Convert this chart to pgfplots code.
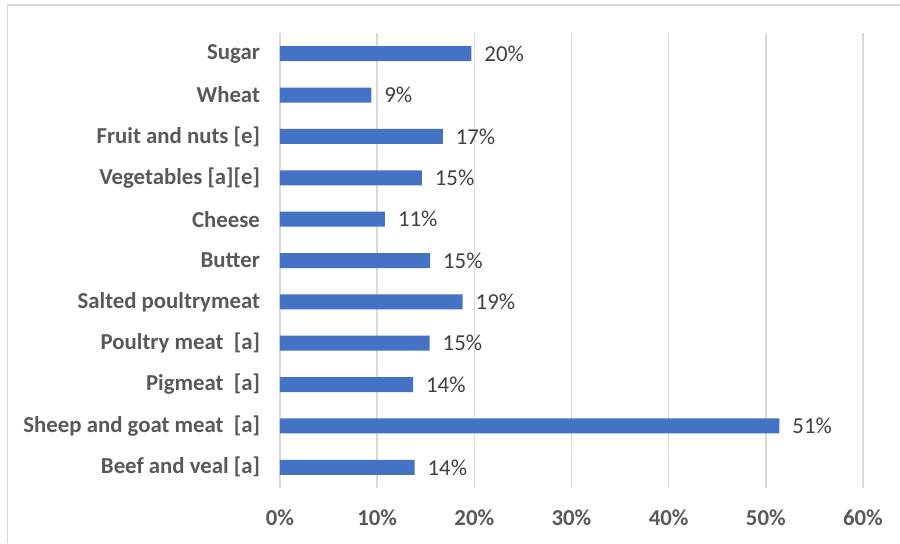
\documentclass[border=0pt]{standalone}
\usepackage{pgfplots}
\pgfplotsset{compat=1.18}
\usepackage{fontspec}
\setmainfont{Carlito}
\definecolor{barblue}{HTML}{4472C4}
\definecolor{lblgray}{HTML}{595959}
\definecolor{valgray}{HTML}{404040}
\definecolor{gridgray}{HTML}{D9D9D9}

\begin{document}
\begin{tikzpicture}
\useasboundingbox (0,0) rectangle (450pt,271.5pt);
% outer chart frame (only top and left edges are in view)
\draw[gridgray, line width=0.8pt] (3.75pt,0) -- (3.75pt,269pt) -- (450pt,269pt);
\begin{axis}[
    at={(140pt,27.5pt)}, anchor=south west,
    scale only axis,
    width=291.5pt, height=227.5pt,
    xbar, bar width=7.5pt,
    xmin=0, xmax=60,
    ymin=-0.5, ymax=10.5,
    xtick={0,10,20,30,40,50,60},
    ytick={0,1,2,3,4,5,6,7,8,9,10},
    yticklabels={Beef and veal [a], Sheep and goat meat\ \ [a], Pigmeat\ \ [a],
        Poultry meat\ \ [a], Salted poultrymeat, Butter, Cheese,
        Vegetables [a][e], Fruit and nuts [e], Wheat, Sugar},
    xticklabel={\pgfmathprintnumber{\tick}\%},
    /pgf/number format/assume math mode=true,
    axis line style={draw=none},
    major tick length=0pt,
    xmajorgrids,
    grid style={gridgray, line width=0.8pt},
    yticklabel style={font=\fontsize{11.4}{13}\selectfont\bfseries, text=lblgray, xshift=-6.5pt},
    xticklabel style={font=\fontsize{11.4}{13}\selectfont\bfseries, text=lblgray, yshift=-7.5pt},
    nodes near coords={\pgfmathprintnumber[fixed,precision=0]{\pgfplotspointmeta}\%},
    nodes near coords style={font=\fontsize{11.4}{13}\selectfont, text=valgray, xshift=3pt},
]
\addplot[draw=none, fill=barblue] coordinates {
    (13.85,0)
    (51.4,1)
    (13.7,2)
    (15.4,3)
    (18.8,4)
    (15.45,5)
    (10.8,6)
    (14.6,7)
    (16.75,8)
    (9.4,9)
    (19.7,10)
};
\end{axis}
\end{tikzpicture}
\end{document}
